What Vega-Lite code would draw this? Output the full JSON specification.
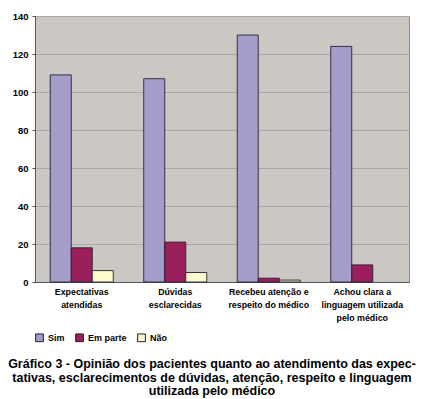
{
  "$schema": "https://vega.github.io/schema/vega-lite/v6.json",
  "width": 374,
  "height": 266,
  "autosize": "none",
  "padding": {"left": 35, "top": 16, "right": 16, "bottom": 117},
  "background": "white",
  "data": {
    "values": [
      {"categoria": "Expectativas atendidas", "resposta": "Sim", "valor": 109},
      {"categoria": "Expectativas atendidas", "resposta": "Em parte", "valor": 18},
      {"categoria": "Expectativas atendidas", "resposta": "Não", "valor": 6},
      {"categoria": "Dúvidas esclarecidas", "resposta": "Sim", "valor": 107},
      {"categoria": "Dúvidas esclarecidas", "resposta": "Em parte", "valor": 21},
      {"categoria": "Dúvidas esclarecidas", "resposta": "Não", "valor": 5},
      {"categoria": "Recebeu atenção e respeito do médico", "resposta": "Sim", "valor": 130},
      {"categoria": "Recebeu atenção e respeito do médico", "resposta": "Em parte", "valor": 2},
      {"categoria": "Recebeu atenção e respeito do médico", "resposta": "Não", "valor": 1},
      {"categoria": "Achou clara a linguagem utilizada pelo médico", "resposta": "Sim", "valor": 124},
      {"categoria": "Achou clara a linguagem utilizada pelo médico", "resposta": "Em parte", "valor": 9}
    ]
  },
  "title": {
    "text": ["Gráfico 3 - Opinião dos pacientes quanto ao atendimento das expec-", "tativas, esclarecimentos de dúvidas, atenção, respeito e linguagem", "utilizada pelo médico"],
    "orient": "bottom",
    "anchor": "middle",
    "dx": -10,
    "font": "Liberation Sans",
    "fontSize": 12.5,
    "fontWeight": "bold",
    "color": "#000000",
    "lineHeight": 13.6,
    "offset": 14
  },
  "mark": {"type": "bar", "stroke": "#222233", "strokeWidth": 0.9},
  "encoding": {
    "x": {
      "field": "categoria",
      "type": "nominal",
      "sort": ["Expectativas atendidas", "Dúvidas esclarecidas", "Recebeu atenção e respeito do médico", "Achou clara a linguagem utilizada pelo médico"],
      "scale": {"paddingInner": 0.326, "paddingOuter": 0.163},
      "axis": {
        "title": null,
        "labelAngle": 0,
        "labelExpr": "datum.label == 'Expectativas atendidas' ? ['Expectativas', 'atendidas'] : datum.label == 'Dúvidas esclarecidas' ? ['Dúvidas', 'esclarecidas'] : datum.label == 'Recebeu atenção e respeito do médico' ? ['Recebeu atenção e', 'respeito do médico'] : ['Achou clara a', 'linguagem utilizada', 'pelo médico']",
        "labelFont": "Liberation Sans",
        "labelFontSize": 8.8,
        "labelFontWeight": "bold",
        "labelColor": "#000000",
        "labelLineHeight": 13,
        "labelPadding": 5,
        "ticks": false,
        "domainColor": "#555555",
        "grid": false
      }
    },
    "xOffset": {"field": "resposta", "type": "nominal", "sort": ["Sim", "Em parte", "Não"], "scale": {"paddingInner": 0}},
    "y": {
      "field": "valor",
      "type": "quantitative",
      "scale": {"domain": [0, 140]},
      "axis": {
        "title": null,
        "values": [0, 20, 40, 60, 80, 100, 120, 140],
        "labelFont": "Liberation Sans",
        "labelFontSize": 9.5,
        "labelFontWeight": "bold",
        "labelColor": "#000000",
        "labelPadding": 4,
        "tickSize": 3,
        "tickColor": "#555555",
        "domainColor": "#555555",
        "gridColor": "#aaa7a4",
        "gridWidth": 1
      }
    },
    "color": {
      "field": "resposta",
      "type": "nominal",
      "sort": ["Sim", "Em parte", "Não"],
      "scale": {"domain": ["Sim", "Em parte", "Não"], "range": ["#a69cca", "#9a1f5b", "#fffacd"]},
      "legend": {
        "title": null,
        "orient": "none",
        "legendX": 0,
        "legendY": 317,
        "direction": "horizontal",
        "symbolType": "square",
        "symbolSize": 60,
        "symbolStrokeColor": "#222222",
        "symbolStrokeWidth": 1,
        "labelFont": "Liberation Sans",
        "labelFontSize": 9,
        "labelFontWeight": "bold",
        "labelColor": "#000000",
        "columnPadding": 8,
        "labelOffset": 4
      }
    }
  },
  "config": {
    "view": {"fill": "#cbc7c3", "stroke": "#8a8a8a", "strokeWidth": 1}
  }
}
